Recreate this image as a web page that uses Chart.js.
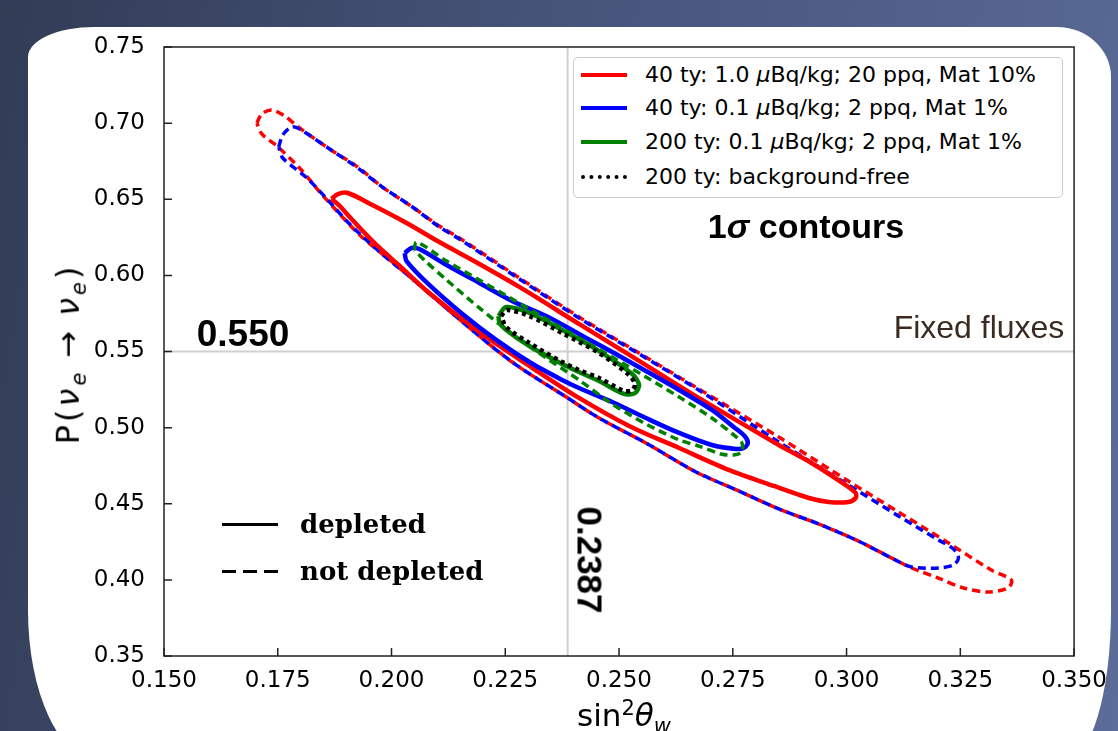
<!DOCTYPE html>
<html>
<head>
<meta charset="utf-8">
<script src="https://cdn.jsdelivr.net/npm/chart.js@4.4.1/dist/chart.umd.min.js"></script>
<style>
  html, body { margin: 0; padding: 0; }
  body {
    width: 1118px; height: 731px; overflow: hidden; position: relative;
    background: linear-gradient(100deg, #313c55 0%, #46547a 45%, #5b6c99 100%);
  }
  #card {
    position: absolute; left: 28px; top: 27px; width: 1083px; height: 733px;
    background: #fff;
    border-radius: 66px 54px 45px 70px / 30px 50px 150px 150px;
  }
  #chart { position: absolute; left: 0; top: 0; }
  .txt { position: absolute; white-space: nowrap; line-height: 1; color: #000; }
  .c { transform: translate(-50%, -50%); }
  #legend {
    position: absolute; left: 573px; top: 57px; width: 490px; height: 141px;
    box-sizing: border-box; border: 1.5px solid #cccccc; border-radius: 5px; background: #fff;
    font-family: "DejaVu Sans", sans-serif; font-size: 22px;
  }
  .row { position: absolute; left: 0; height: 30px; width: 100%; line-height: 30px; }
  .sample { position: absolute; left: 7px; top: 13px; width: 46px; height: 0; }
  .row span { position: absolute; left: 71px; top: 0; }
  .serif { font-family: "DejaVu Serif", serif; font-weight: bold; font-size: 26px; }
  .bold { font-family: "Liberation Sans", Arial, sans-serif; font-weight: bold; }
</style>
</head>
<body>
<div id="card"></div>
<canvas id="chart" width="1118" height="731"></canvas>

<div id="legend">
  <div class="row" style="top:2px"><div class="sample" style="border-top:4px solid #ff0000"></div><span>40 ty: 1.0 <i>μ</i>Bq/kg; 20 ppq, Mat 10%</span></div>
  <div class="row" style="top:35px"><div class="sample" style="border-top:4px solid #0000ff"></div><span>40 ty: 0.1 <i>μ</i>Bq/kg; 2 ppq, Mat 1%</span></div>
  <div class="row" style="top:69px"><div class="sample" style="border-top:4px solid #008000"></div><span>200 ty: 0.1 <i>μ</i>Bq/kg; 2 ppq, Mat 1%</span></div>
  <div class="row" style="top:104px"><div class="sample" style="border-top:4px dotted #000"></div><span>200 ty: background-free</span></div>
</div>

<div class="txt" style="left:222px; top:523px; width:56px; height:3px; background:#000"></div>
<div class="txt serif" style="left:300px; top:511px">depleted</div>
<div class="txt" style="left:222px; top:570px; width:56px; height:3px; background:repeating-linear-gradient(90deg, #000 0 14px, transparent 14px 21px)"></div>
<div class="txt serif" style="left:300px; top:558px">not depleted</div>

<div class="txt c bold" style="left:243px; top:333px; font-size:37px">0.550</div>
<div class="txt c bold" style="left:806px; top:226px; font-size:34px">1<i>σ</i> contours</div>
<div class="txt c" style="left:979px; top:327px; font:32px 'Liberation Sans', Arial, sans-serif; color:#3b2a20">Fixed fluxes</div>
<div class="txt bold" style="left:590px; top:560px; font-size:35px; transform:translate(-50%,-50%) rotate(90deg)">0.2387</div>

<div class="txt" style="left:70px; top:354px; font:32px 'DejaVu Sans', sans-serif; letter-spacing:3px; transform:translate(-50%,-50%) rotate(-90deg)">P(<i>ν</i><sub style="font-size:21px"><i>e</i></sub><span style="padding:0 12px">→</span><i>ν</i><sub style="font-size:21px"><i>e</i></sub>)</div>
<div class="txt c" style="left:624px; top:717px; font:31px 'DejaVu Sans', sans-serif">sin<sup style="font-size:21px">2</sup><i>θ</i><sub style="font-size:21px"><i>w</i></sub></div>

<script>
// axis ticks
const xTicks = [0.150, 0.175, 0.200, 0.225, 0.250, 0.275, 0.300, 0.325, 0.350];
const yTicks = [0.35, 0.40, 0.45, 0.50, 0.55, 0.60, 0.65, 0.70, 0.75];

// reference values
const refX = 0.2387;
const refY = 0.550;

// 40 ty: 1.0 uBq/kg, not depleted (dashed red)
const rdX = [0.1704, 0.1715, 0.1737, 0.1765, 0.1798, 0.1864, 0.1923, 0.1980, 0.2046, 0.2105, 0.2149, 0.2281, 0.2412, 0.2544, 0.2675, 0.2851, 0.3004, 0.3114, 0.3224, 0.3318, 0.3362, 0.3355, 0.3311, 0.3257, 0.3202, 0.3143, 0.3107, 0.3026, 0.2939, 0.2851, 0.2763, 0.2669, 0.2559, 0.2456, 0.2384, 0.2265, 0.2156, 0.2046, 0.2018, 0.1974, 0.1930, 0.1886, 0.1842, 0.1798, 0.1748, 0.1715];
const rdY = [0.7001, 0.7060, 0.7086, 0.7047, 0.6968, 0.6830, 0.6718, 0.6580, 0.6449, 0.6324, 0.6246, 0.5983, 0.5727, 0.5490, 0.5254, 0.4938, 0.4649, 0.4446, 0.4242, 0.4065, 0.3999, 0.3947, 0.3920, 0.3947, 0.4012, 0.4078, 0.4131, 0.4255, 0.4367, 0.4466, 0.4584, 0.4709, 0.4899, 0.5063, 0.5201, 0.5431, 0.5694, 0.5976, 0.6048, 0.6154, 0.6265, 0.6403, 0.6548, 0.6705, 0.6850, 0.6929];

// 40 ty: 0.1 uBq/kg, not depleted (dashed blue)
const bdX = [0.1752, 0.1761, 0.1781, 0.1798, 0.1864, 0.1923, 0.1980, 0.2046, 0.2105, 0.2149, 0.2281, 0.2412, 0.2544, 0.2675, 0.2851, 0.3004, 0.3114, 0.3202, 0.3235, 0.3246, 0.3235, 0.3202, 0.3143, 0.3107, 0.3026, 0.2939, 0.2851, 0.2763, 0.2669, 0.2559, 0.2456, 0.2384, 0.2265, 0.2156, 0.2046, 0.1974, 0.1908, 0.1864, 0.1814, 0.1761];
const bdY = [0.6843, 0.6922, 0.6975, 0.6961, 0.6830, 0.6712, 0.6580, 0.6449, 0.6318, 0.6239, 0.5976, 0.5720, 0.5484, 0.5247, 0.4906, 0.4623, 0.4420, 0.4262, 0.4203, 0.4144, 0.4098, 0.4078, 0.4085, 0.4131, 0.4255, 0.4367, 0.4466, 0.4584, 0.4709, 0.4899, 0.5063, 0.5201, 0.5431, 0.5694, 0.5976, 0.6154, 0.6337, 0.6482, 0.6640, 0.6771];

// 40 ty: 1.0 uBq/kg, depleted (solid red)
const rsX = [0.1868, 0.1882, 0.1904, 0.1958, 0.2033, 0.2105, 0.2193, 0.2281, 0.2412, 0.2544, 0.2675, 0.2851, 0.2923, 0.2998, 0.3020, 0.3020, 0.3004, 0.2961, 0.2917, 0.2840, 0.2741, 0.2632, 0.2522, 0.2412, 0.2303, 0.2193, 0.2083, 0.2018, 0.1974, 0.1941, 0.1908, 0.1886];
const rsY = [0.6502, 0.6534, 0.6541, 0.6462, 0.6344, 0.6219, 0.6075, 0.5924, 0.5681, 0.5438, 0.5195, 0.4886, 0.4768, 0.4623, 0.4571, 0.4538, 0.4512, 0.4512, 0.4538, 0.4617, 0.4722, 0.4866, 0.5011, 0.5195, 0.5405, 0.5628, 0.5884, 0.6062, 0.6180, 0.6278, 0.6383, 0.6456];

// 40 ty: 0.1 uBq/kg, depleted (solid blue)
const bsX = [0.2029, 0.2044, 0.2061, 0.2121, 0.2193, 0.2265, 0.2340, 0.2412, 0.2485, 0.2559, 0.2632, 0.2704, 0.2752, 0.2776, 0.2783, 0.2774, 0.2757, 0.2704, 0.2632, 0.2559, 0.2485, 0.2412, 0.2375, 0.2303, 0.2230, 0.2156, 0.2083, 0.2033];
const bsY = [0.6147, 0.6180, 0.6173, 0.6068, 0.5950, 0.5832, 0.5733, 0.5615, 0.5497, 0.5372, 0.5247, 0.5116, 0.5004, 0.4945, 0.4899, 0.4866, 0.4860, 0.4886, 0.4965, 0.5063, 0.5168, 0.5260, 0.5313, 0.5431, 0.5576, 0.5746, 0.5937, 0.6094];

// 200 ty: 0.1 uBq/kg, not depleted (dashed green)
const gdX = [0.2050, 0.2055, 0.2121, 0.2193, 0.2265, 0.2340, 0.2412, 0.2485, 0.2559, 0.2632, 0.2704, 0.2752, 0.2770, 0.2770, 0.2752, 0.2724, 0.2675, 0.2632, 0.2559, 0.2485, 0.2412, 0.2340, 0.2265, 0.2193, 0.2121, 0.2072];
const gdY = [0.6167, 0.6219, 0.6094, 0.5970, 0.5845, 0.5713, 0.5589, 0.5464, 0.5333, 0.5201, 0.5063, 0.4952, 0.4899, 0.4840, 0.4820, 0.4827, 0.4879, 0.4919, 0.5024, 0.5155, 0.5313, 0.5457, 0.5615, 0.5786, 0.5970, 0.6101];

// 200 ty: 0.1 uBq/kg, depleted (solid green)
const gsX = [0.2235, 0.2252, 0.2303, 0.2375, 0.2456, 0.2529, 0.2544, 0.2535, 0.2511, 0.2456, 0.2412, 0.2375, 0.2303, 0.2252, 0.2237];
const gsY = [0.5733, 0.5792, 0.5753, 0.5641, 0.5503, 0.5352, 0.5280, 0.5227, 0.5221, 0.5306, 0.5365, 0.5418, 0.5536, 0.5641, 0.5694];

// 200 ty: background-free (dotted black)
const bkX = [0.2241, 0.2254, 0.2303, 0.2375, 0.2456, 0.2522, 0.2535, 0.2529, 0.2511, 0.2456, 0.2412, 0.2375, 0.2303, 0.2252];
const bkY = [0.5733, 0.5773, 0.5733, 0.5621, 0.5490, 0.5346, 0.5287, 0.5247, 0.5241, 0.5326, 0.5378, 0.5431, 0.5556, 0.5661];

const loop = (xs, ys) => {
    const pts = xs.map((x, i) => ({ x, y: ys[i] }));
    pts.push(pts[0]);
    return pts;
};

const contour = (xs, ys, color, dash, width, order) => ({
    data: loop(xs, ys),
    showLine: true,
    borderColor: color,
    borderWidth: width,
    borderDash: dash,
    pointRadius: 0,
    tension: 0.3,
    fill: false,
    order
});

const frameAndTicks = {
    id: 'frameAndTicks',
    afterDatasetsDraw(chart) {
        const { ctx, chartArea: a, scales: { x, y } } = chart;
        ctx.save();
        ctx.strokeStyle = '#222';
        ctx.lineWidth = 1.5;
        ctx.strokeRect(a.left, a.top, a.right - a.left, a.bottom - a.top);
        ctx.beginPath();
        xTicks.forEach(v => {
            const px = x.getPixelForValue(v);
            ctx.moveTo(px, a.bottom);
            ctx.lineTo(px, a.bottom - 8);
        });
        yTicks.forEach(v => {
            const py = y.getPixelForValue(v);
            ctx.moveTo(a.left, py);
            ctx.lineTo(a.left + 8, py);
        });
        ctx.stroke();
        ctx.restore();
    }
};

const ctx = document.getElementById('chart');
new Chart(ctx, {
    type: 'scatter',
    data: {
        datasets: [
            { data: [{ x: refX, y: yTicks[0] }, { x: refX, y: yTicks[yTicks.length - 1] }], showLine: true, borderColor: '#d0d0d0', borderWidth: 2, pointRadius: 0, order: 20 },
            { data: [{ x: xTicks[0], y: refY }, { x: xTicks[xTicks.length - 1], y: refY }], showLine: true, borderColor: '#d0d0d0', borderWidth: 2, pointRadius: 0, order: 21 },
            contour(rdX, rdY, '#ff0000', [8, 5], 3.5, 9),
            contour(bdX, bdY, '#0000ff', [8, 5], 3.5, 8),
            contour(rsX, rsY, '#ff0000', [], 4.5, 7),
            contour(bsX, bsY, '#0000ff', [], 4.5, 6),
            contour(gdX, gdY, '#008000', [8, 5], 3.5, 5),
            contour(gsX, gsY, '#008000', [], 4.5, 4),
            contour(bkX, bkY, '#000000', [4, 4], 4.5, 3)
        ]
    },
    options: {
        responsive: false,
        devicePixelRatio: 1,
        animation: false,
        layout: { padding: { left: 0, top: 47, right: 42, bottom: 0 } },
        plugins: { legend: { display: false }, tooltip: { enabled: false } },
        scales: {
            x: {
                type: 'linear',
                min: xTicks[0],
                max: xTicks[xTicks.length - 1],
                afterBuildTicks: s => { s.ticks = xTicks.map(v => ({ value: v })); },
                afterFit: s => { s.height = 75; },
                grid: { display: false, drawTicks: false },
                border: { display: false },
                ticks: {
                    padding: 11,
                    maxRotation: 0,
                    color: '#000',
                    font: { family: 'DejaVu Sans', size: 23 },
                    callback: v => v.toFixed(3)
                }
            },
            y: {
                type: 'linear',
                min: yTicks[0],
                max: yTicks[yTicks.length - 1],
                afterBuildTicks: s => { s.ticks = yTicks.map(v => ({ value: v })); },
                afterFit: s => { s.width = 164; },
                grid: { display: false, drawTicks: false },
                border: { display: false },
                ticks: {
                    padding: 19,
                    color: '#000',
                    font: { family: 'DejaVu Sans', size: 23 },
                    callback: v => v.toFixed(2)
                }
            }
        }
    },
    plugins: [frameAndTicks]
});
</script>
</body>
</html>
